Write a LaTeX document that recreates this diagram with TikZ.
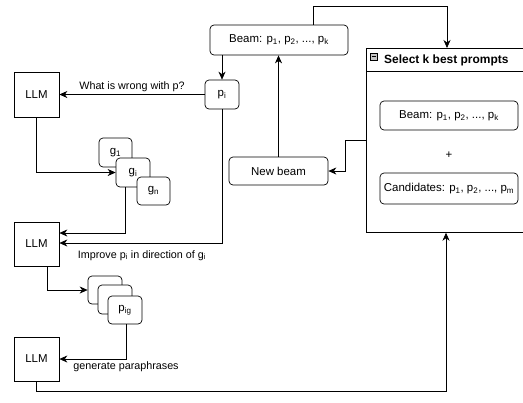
\documentclass[tikz,border=0pt]{standalone}
\usepackage{fontspec}
\setmainfont{Liberation Sans}
\usetikzlibrary{arrows.meta,calc}
\newcommand\tsub[1]{\textsubscript{#1}}
\begin{document}
\begin{tikzpicture}[x=1bp,y=-1bp,
  every node/.style={font=\fontsize{11.5}{13}\selectfont},
  rbox/.style={draw, rounded corners=4bp, fill=white, line width=0.7bp, inner sep=0pt},
  sbox/.style={draw, fill=white, line width=0.7bp, inner sep=0pt, minimum width=45bp, minimum height=45bp},
  lbl/.style={inner sep=1bp, font=\fontsize{10.8}{12}\selectfont},
  conn/.style={line width=0.7bp},
  arr/.style={conn, -{Stealth[length=8bp,width=7bp,inset=2.5bp]}}]
\useasboundingbox (0,0) rectangle (523,402);
% select box
\node[draw, line width=0.7bp, minimum width=158bp, minimum height=184bp, inner sep=0pt, anchor=north west] (sel) at (366,48) {};
\draw[line width=0.7bp] (366,71) -- (524,71);
\node[draw, fill=gray!45, minimum size=7bp, inner sep=0pt, line width=0.4bp] (ic) at (374,56.5) {};
\draw[line width=0.6bp] ($(ic.west)+(1.5,0)$) -- ($(ic.east)+(-1.5,0)$);
\node[anchor=west, font=\fontsize{12}{14}\selectfont\bfseries, inner sep=0pt] (title) at (384,60) {Select k best prompts};
\node[rbox, minimum width=138bp, minimum height=29bp] (ibeam) at (449,115.5) {Beam: p\tsub{1}, p\tsub{2}, ..., p\tsub{k}};
\node (plus) at (449,155) {+};
\node[rbox, minimum width=138bp, minimum height=31bp] (cand) at (449,188.5) {Candidates: p\tsub{1}, p\tsub{2}, ..., p\tsub{m}};
% main nodes
\node[rbox, minimum width=138bp, minimum height=30bp] (beam) at (279,40) {Beam: p\tsub{1}, p\tsub{2}, ..., p\tsub{k}};
\node[rbox, minimum width=34bp, minimum height=29bp] (pi) at (222,94.5) {p\tsub{i}};
\node[sbox] (llm1) at (36.5,94.5) {LLM};
\node[sbox, minimum height=44bp] (llm2) at (36.5,244) {LLM};
\node[sbox, minimum height=44bp] (llm3) at (36.5,359) {LLM};
\node[rbox, minimum width=33bp, minimum height=29bp] (g1) at (115.5,152.5) {g\tsub{1}};
\node[rbox, minimum width=34bp, minimum height=29bp] (gi) at (133,172.5) {g\tsub{i}};
\node[rbox, minimum width=33bp, minimum height=28bp] (gn) at (153.5,191) {g\tsub{n}};
\node[rbox, minimum width=34bp, minimum height=28bp] (pa) at (105,290) {};
\node[rbox, minimum width=34bp, minimum height=29bp] (pb) at (115,299.5) {};
\node[rbox, minimum width=34bp, minimum height=28bp] (pig) at (125,310) {p\tsub{ig}};
\node[rbox, minimum width=99bp, minimum height=28bp] (nb) at (278.5,171) {New beam};
% connectors
\draw[arr] (beam.south -| pi.north) -- (pi.north);
\draw[arr] (pi.west) -- node[lbl, above=1bp] {What is wrong with p?} (llm1.east);
\draw[arr] (llm1.south) |- (gi.west);
\draw[arr] ($(gi.south)+(-8,0)$) |- ($(llm2.east)+(0,-11)$);
\draw[arr] (pi.south) |- ($(llm2.east)+(0,-1)$);
\node[lbl] (imp) at (142,255.5) {Improve p\tsub{i} in direction of g\tsub{i}};
\draw[arr] ($(llm2.south)+(11,0)$) |- (pa.west);
\draw[arr] ($(pig.south)+(1,0)$) |- (llm3.east);
\node[lbl] (gp) at (126,366.5) {generate paraphrases};
\coordinate (lowr) at (446,391);
\draw[arr] (llm3.south) |- (lowr) -- (lowr |- sel.south);
\coordinate (topr) at (447,6);
\draw[arr] ($(beam.north)+(34,0)$) |- (topr) -- (topr |- sel.north);
\coordinate (mid) at (345,140);
\draw[arr] (sel.west |- mid) -- (mid) |- (nb.east);
\draw[arr] (nb.north) -- (nb.north |- beam.south);
\end{tikzpicture}
\end{document}
